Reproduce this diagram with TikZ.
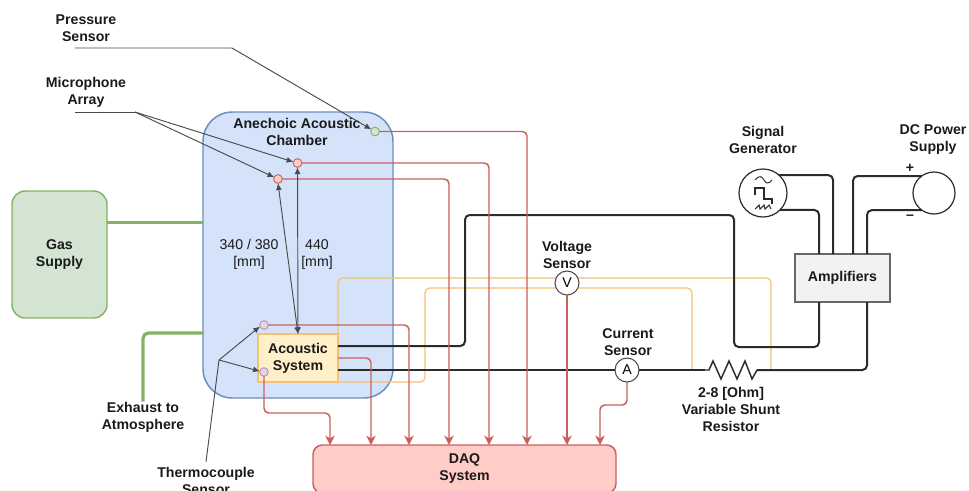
\documentclass[tikz,border=0pt]{standalone}
\usepackage{fontspec}
\setmainfont{Liberation Sans}
\usetikzlibrary{arrows.meta,positioning,calc}
\definecolor{ink}{HTML}{1A1A1A}
\definecolor{wire}{HTML}{2B2B2B}
\definecolor{pointer}{HTML}{4A4A4A}
\definecolor{signal}{HTML}{C9605C}
\definecolor{signalfill}{HTML}{FFCCC7}
\definecolor{power}{HTML}{F6C06E}
\definecolor{powerfill}{HTML}{FFF0CA}
\definecolor{pipe}{HTML}{82B366}
\definecolor{pipefill}{HTML}{D3E4D2}
\definecolor{tank}{HTML}{6C8EBF}
\definecolor{tankfill}{HTML}{D4E3FA}
\definecolor{tcedge}{HTML}{C88FB0}
\definecolor{tcfill}{HTML}{E1D5E7}
\newcommand{\lblfont}{\fontsize{10.6}{12.75}\selectfont}
\tikzset{
  panel/.style={draw=#1,line width=1.1pt,inner sep=0pt,outer sep=0pt,align=center,text=ink,font=\lblfont\bfseries},
  lbl/.style={inner sep=0pt,align=center,text=ink,font=\lblfont\bfseries},
  dim/.style={inner sep=0pt,align=center,text=ink,font=\lblfont},
  probe/.style={circle,draw=#1,line width=0.7pt,minimum size=6.5pt,inner sep=0pt,outer sep=0pt},
  meter/.style={circle,draw=black!70,fill=white,line width=0.8pt,minimum size=18pt,inner sep=0pt,outer sep=0pt,font=\lblfont},
  source/.style={circle,draw=wire,fill=white,line width=0.9pt,inner sep=0pt,outer sep=0pt},
  sigline/.style={-{Stealth[length=7pt,width=7pt,inset=2pt]},draw=signal,line width=1.1pt,rounded corners=3.5pt},
  blackline/.style={draw=wire,line width=1.5pt,rounded corners=3.5pt},
  orangeline/.style={draw=power,line width=0.9pt,rounded corners=3.5pt},
  gasline/.style={draw=pipe,line width=2.4pt,rounded corners=4pt},
  callout/.style={-{Latex[length=5pt,width=4.5pt]},draw=pointer,line width=0.7pt},
  span/.style={{Latex[length=5pt,width=4.5pt]}-{Latex[length=5pt,width=4.5pt]},draw=pointer,line width=0.7pt}
}
\begin{document}
\begin{tikzpicture}[x=0.75pt,y=-0.75pt]
  \clip (0,0) rectangle (969,490);
  % boxes
  \node[panel=pipe,fill=pipefill,rounded corners=10pt,minimum width=71.25pt,minimum height=95.25pt] (gas) at (59.5,254.5) {Gas\\Supply};
  \node[panel=tank,fill=tankfill,rounded corners=22pt,minimum width=142.5pt,minimum height=214.5pt] (chamber) at (298,255) {};
  \node[lbl] (chamberlbl) at (297,131.5) {Anechoic Acoustic\\Chamber};
  \node[panel=power,fill=powerfill,minimum width=60pt,minimum height=36pt] (acoustic) at (298,358) {Acoustic\\System};
  \node[panel=black!60,fill=black!5,minimum width=71.25pt,minimum height=36pt] (amp) at (842.5,278) {Amplifiers};
  \node[panel=signal,fill=signalfill,rounded corners=7pt,minimum width=227.25pt,minimum height=36pt] (daq) at (464.5,469) {DAQ\\System};

  % gas lines
  \draw[gasline] ([yshift=24pt]gas.east) -- ([yshift=24pt]gas.east -| chamber.west);
  \node[lbl] (exhaust) at (143,417) {Exhaust to\\Atmosphere};
  \draw[gasline] ([yshift=-58.5pt]chamber.west) -| (exhaust.north);

  % sensors and sources
  \node[probe=pipe,fill=pipefill] (ps) at (375,131.5) {};
  \node[probe=signal,fill=signalfill] (mica) at (297.5,163) {};
  \node[probe=signal,fill=signalfill] (micb) at (278,179) {};
  \node[probe=tcedge,fill=tcfill] (tca) at (264,325) {};
  \node[probe=tcedge,fill=tcfill] (tcb) at (264,372) {};
  \coordinate (sa) at (705,370);
  \coordinate (sb) at (757,370);
  \coordinate (ampa) at (819,254);
  \coordinate (ampb) at (833,254);
  \coordinate (ampc) at (853,254);
  \coordinate (ampd) at (867,254);
  \coordinate (ampe) at (819,302);
  \coordinate (ampf) at (867,302);
  \foreach \n/\x in {a/330,b/371,c/409,d/449,e/489,f/527,g/567,h/600}
    \coordinate (daq\n) at (\x,445);

  % supply wiring
  \draw[orangeline] (acoustic.north east) |- (771,278) -- (771,370);
  \draw[orangeline] (acoustic.south east) -- (425,382) |- (692,288) -- (692,370);
  \node[meter] (vm) at (567,283) {V};
  \draw[blackline] ([yshift=9pt]acoustic.east) -- (465,346) -- (465,215) -- (734,215) -- (734,347) -| (ampe);
  \node[meter] (am) at (627,370) {A};
  \draw[blackline] ([yshift=-9pt]acoustic.east) -- (am);
  \draw[blackline] (am) -- (sa);
  \draw[draw=wire,line width=1.1pt] (sa) -- (709,370) -- (713,361) -- (721,379) -- (729,361) -- (737,379) -- (745,361) -- (752,379) -- (sb);
  \draw[blackline] (sb) -| (ampf);

  % signal lines
  \draw[sigline] (ps) -| (daqf);
  \draw[sigline] (mica) -| (daqe);
  \draw[sigline] (micb) -| (daqd);
  \draw[sigline] (tca) -| (daqc);
  \draw[sigline] (acoustic.east) -| (daqb);
  \draw[sigline] (tcb) |- (330,413) -- (daqa);
  \draw[sigline] (vm) -- (daqg);
  \draw[sigline] (am) |- (600,405) -- (daqh);

  % sources
  \node[source,minimum size=36pt] (siggen) at (763,193) {};
  \node[source,minimum size=31.5pt] (dc) at (934,193) {};
  \draw[blackline] (siggen.48) -- (siggen.48 -| ampb) -- (ampb);
  \draw[blackline] (siggen.-45) -- (siggen.-45 -| ampa) -- (ampa);
  \draw[blackline] (dc.126) -- (dc.126 -| ampc) -- (ampc);
  \draw[blackline] (dc.-125) -- (dc.-125 -| ampd) -- (ampd);
  \draw[draw=wire,line width=0.7pt] (755,180) .. controls (759,175) and (762,176) .. (764,180) .. controls (766,184) and (769,184) .. (772,180);
  \draw[draw=wire,line width=0.8pt] (755,195) -- (755,188) -- (764,188) -- (764,199) -- (772,199) -- (772,204);
  \draw[draw=wire,line width=0.8pt] (755,209) -- (759,205) -- (760,209) -- (764,205) -- (765,209) -- (769,205) -- (771,209);
  \node[lbl] (plus) at (910,168.5) {+};
  \node[lbl] (minus) at (910,217) {--};

  % callouts
  \node[lbl] (pslbl) at (86,28) {Pressure\\Sensor};
  \node[lbl] (miclbl) at (86,92) {Microphone\\Array};
  \node[lbl] (tclbl) at (206,481) {Thermocouple\\Sensor};
  \coordinate (psstart) at (75,48);
  \coordinate (micstart) at (75,112);
  \coordinate (micfork) at (135,112);
  \coordinate (tcfork) at (219,360);
  \draw[callout] (psstart) -- (232,48) -- (ps.150);
  \draw[draw=pointer,line width=0.7pt] (micstart) -- (micfork);
  \draw[callout] (micfork) -- (mica.165);
  \draw[callout] (micfork) -- (micb.155);
  \draw[draw=pointer,line width=0.7pt] ([yshift=4pt]tclbl.north) -- (tcfork);
  \draw[callout] (tcfork) -- (tca.200);
  \draw[callout] (tcfork) -- (tcb.170);
  \draw[span] (mica.south) -- (acoustic.north);
  \draw[span] (micb.south) -- (acoustic.north);

  % labels
  \node[dim] (dima) at (249,254.5) {340 / 380\\{}[mm]};
  \node[dim] (dimb) at (317,254.5) {440\\{}[mm]};
  \node[lbl] (vlbl) at (567,254.5) {Voltage\\Sensor};
  \node[lbl] (albl) at (628,342) {Current\\Sensor};
  \node[lbl] (rlbl) at (731,409) {2-8 [Ohm]\\Variable Shunt\\Resistor};
  \node[lbl] (siglbl) at (763,139.5) {Signal\\Generator};
  \node[lbl] (dclbl) at (933,139.5) {DC Power\\Supply};
\end{tikzpicture}
\end{document}
